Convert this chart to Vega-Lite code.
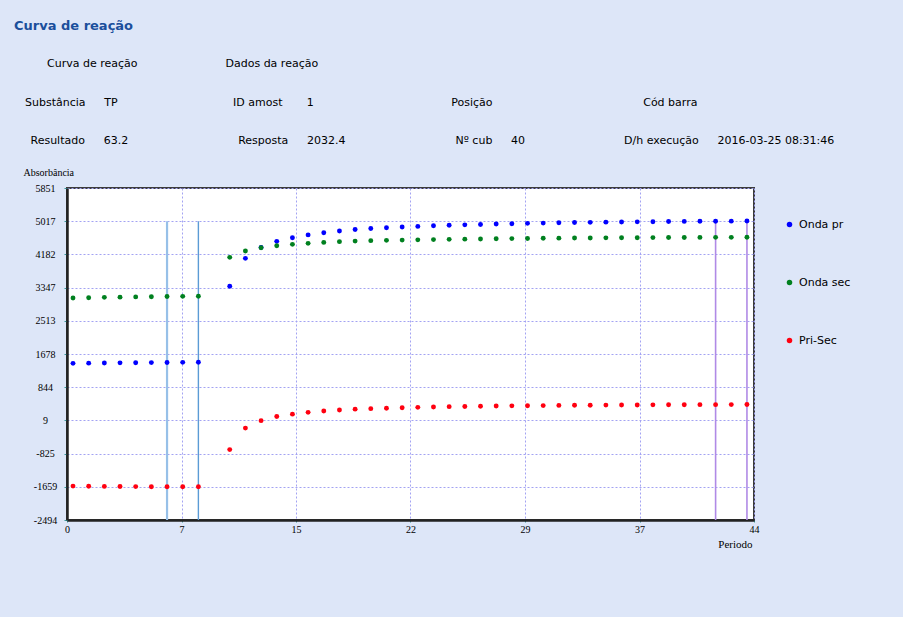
{
  "$schema": "https://vega.github.io/schema/vega-lite/v6.json",
  "autosize": {"type": "none"},
  "width": 687,
  "height": 332,
  "padding": {"left": 67, "top": 188, "right": 149, "bottom": 97},
  "background": "#dde6f8",
  "config": {
    "view": {"fill": "#ffffff", "stroke": "#3c3c3c", "strokeWidth": 2},
    "font": "DejaVu Sans"
  },
  "title": {
    "text": "Curva de reação",
    "subtitle": [
      "\u200b\u2003\u2003\u2003Curva de reação\u2003\u2003\u2003\u2003\u2003\u2003\u2003\u2003Dados da reação",
      "\u200b\u2003Substância\u2003\u2002\u2009TP\u2003\u2003\u2003\u2003\u2003\u2003\u2003\u2003\u2003\u2003\u2002ID amost\u2003\u2003\u20091\u2003\u2003\u2003\u2003\u2003\u2003\u2003\u2003\u2003\u2003\u2003\u2003\u2002Posição\u2003\u2003\u2003\u2003\u2003\u2003\u2003\u2003\u2003\u2003\u2003\u2003\u2003\u2002\u2009Cód barra",
      "\u200b\u2003\u2002Resultado\u2003\u2002\u200963.2\u2003\u2003\u2003\u2003\u2003\u2003\u2003\u2003\u2003\u2003Resposta\u2003\u2002\u20092032.4\u2003\u2003\u2003\u2003\u2003\u2003\u2003\u2003\u2003\u2003Nº cub\u2003\u2002\u200940\u2003\u2003\u2003\u2003\u2003\u2003\u2003\u2003\u2003D/h execução\u2003\u2002\u20092016-03-25 08:31:46"
    ],
    "anchor": "start",
    "frame": "group",
    "dx": -53,
    "offset": 21,
    "font": "DejaVu Sans",
    "fontSize": 13,
    "fontWeight": "bold",
    "color": "#1b4f9c",
    "subtitleFont": "DejaVu Sans",
    "subtitleFontSize": 11,
    "subtitleColor": "#000000",
    "subtitleLineHeight": 38.5,
    "subtitlePadding": 25
  },
  "datasets": {
    "leituras": [
      {"periodo": 1, "Onda pr": 1444, "Onda sec": 3086, "Pri-Sec": -1642},
      {"periodo": 2, "Onda pr": 1448, "Onda sec": 3094, "Pri-Sec": -1646},
      {"periodo": 3, "Onda pr": 1452, "Onda sec": 3102, "Pri-Sec": -1650},
      {"periodo": 4, "Onda pr": 1456, "Onda sec": 3108, "Pri-Sec": -1652},
      {"periodo": 5, "Onda pr": 1459, "Onda sec": 3114, "Pri-Sec": -1655},
      {"periodo": 6, "Onda pr": 1462, "Onda sec": 3119, "Pri-Sec": -1657},
      {"periodo": 7, "Onda pr": 1465, "Onda sec": 3123, "Pri-Sec": -1658},
      {"periodo": 8, "Onda pr": 1468, "Onda sec": 3127, "Pri-Sec": -1659},
      {"periodo": 9, "Onda pr": 1470, "Onda sec": 3129, "Pri-Sec": -1659},
      {"periodo": 11, "Onda pr": 3383, "Onda sec": 4108, "Pri-Sec": -725},
      {"periodo": 12, "Onda pr": 4083, "Onda sec": 4267, "Pri-Sec": -184},
      {"periodo": 13, "Onda pr": 4354, "Onda sec": 4351, "Pri-Sec": 3},
      {"periodo": 14, "Onda pr": 4510, "Onda sec": 4401, "Pri-Sec": 109},
      {"periodo": 15, "Onda pr": 4602, "Onda sec": 4435, "Pri-Sec": 167},
      {"periodo": 16, "Onda pr": 4672, "Onda sec": 4460, "Pri-Sec": 212},
      {"periodo": 17, "Onda pr": 4728, "Onda sec": 4484, "Pri-Sec": 244},
      {"periodo": 18, "Onda pr": 4772, "Onda sec": 4502, "Pri-Sec": 270},
      {"periodo": 19, "Onda pr": 4808, "Onda sec": 4516, "Pri-Sec": 292},
      {"periodo": 20, "Onda pr": 4832, "Onda sec": 4527, "Pri-Sec": 305},
      {"periodo": 21, "Onda pr": 4851, "Onda sec": 4535, "Pri-Sec": 316},
      {"periodo": 22, "Onda pr": 4871, "Onda sec": 4542, "Pri-Sec": 329},
      {"periodo": 23, "Onda pr": 4886, "Onda sec": 4548, "Pri-Sec": 338},
      {"periodo": 24, "Onda pr": 4901, "Onda sec": 4554, "Pri-Sec": 347},
      {"periodo": 25, "Onda pr": 4915, "Onda sec": 4560, "Pri-Sec": 355},
      {"periodo": 26, "Onda pr": 4925, "Onda sec": 4565, "Pri-Sec": 360},
      {"periodo": 27, "Onda pr": 4935, "Onda sec": 4570, "Pri-Sec": 365},
      {"periodo": 28, "Onda pr": 4946, "Onda sec": 4575, "Pri-Sec": 371},
      {"periodo": 29, "Onda pr": 4954, "Onda sec": 4579, "Pri-Sec": 375},
      {"periodo": 30, "Onda pr": 4962, "Onda sec": 4583, "Pri-Sec": 379},
      {"periodo": 31, "Onda pr": 4969, "Onda sec": 4587, "Pri-Sec": 382},
      {"periodo": 32, "Onda pr": 4976, "Onda sec": 4590, "Pri-Sec": 386},
      {"periodo": 33, "Onda pr": 4982, "Onda sec": 4593, "Pri-Sec": 389},
      {"periodo": 34, "Onda pr": 4987, "Onda sec": 4596, "Pri-Sec": 391},
      {"periodo": 35, "Onda pr": 4992, "Onda sec": 4598, "Pri-Sec": 394},
      {"periodo": 36, "Onda pr": 4996, "Onda sec": 4600, "Pri-Sec": 396},
      {"periodo": 37, "Onda pr": 5000, "Onda sec": 4602, "Pri-Sec": 398},
      {"periodo": 38, "Onda pr": 5004, "Onda sec": 4604, "Pri-Sec": 400},
      {"periodo": 39, "Onda pr": 5008, "Onda sec": 4606, "Pri-Sec": 402},
      {"periodo": 40, "Onda pr": 5012, "Onda sec": 4608, "Pri-Sec": 404},
      {"periodo": 41, "Onda pr": 5014, "Onda sec": 4609, "Pri-Sec": 405},
      {"periodo": 42, "Onda pr": 5016, "Onda sec": 4610, "Pri-Sec": 406},
      {"periodo": 43, "Onda pr": 5018, "Onda sec": 4611, "Pri-Sec": 407},
      {"periodo": 44, "Onda pr": 5020, "Onda sec": 4612, "Pri-Sec": 408}
    ],
    "janelas": [
      {"periodo": 7, "janela": "Reagente", "borda": "início"},
      {"periodo": 9, "janela": "Reagente", "borda": "fim"},
      {"periodo": 42, "janela": "Reação", "borda": "início"},
      {"periodo": 44, "janela": "Reação", "borda": "fim"}
    ]
  },
  "encoding": {
    "x": {
      "field": "periodo",
      "type": "quantitative",
      "scale": {"domain": [0.617, 44.45], "nice": false, "zero": false},
      "axis": {
        "title": "Periodo",
        "values": [0.617, 7.9225, 15.228, 22.5335, 29.839, 37.1445, 44.45],
        "tickCount": 20,
        "labelExpr": "format((datum.value - 0.617) * 44 / 43.833, 'd')",
        "labelFont": "Liberation Serif",
        "labelFontSize": 10,
        "labelColor": "#000000",
        "labelPadding": 2,
        "labelFlush": false,
        "labelOverlap": false,
        "tickSize": 2,
        "tickColor": "#3a9a9a",
        "domainColor": "#222222",
        "domainWidth": 2.5,
        "grid": true,
        "gridColor": "#a3a3f2",
        "gridDash": [2, 2],
        "gridWidth": 1,
        "titleFont": "Liberation Serif",
        "titleFontSize": 11,
        "titleFontWeight": "normal",
        "titleColor": "#000000",
        "titleAlign": "right",
        "titleBaseline": "alphabetic",
        "titleX": 685,
        "titleY": 27
      }
    }
  },
  "layer": [
    {
      "data": {"name": "janelas"},
      "transform": [{"filter": "datum.janela == 'Reagente' && datum.borda == 'início'"}],
      "mark": {"type": "rule", "color": "#97c0e8", "strokeWidth": 2.2},
      "encoding": {"y": {"datum": 5017}, "y2": {"datum": -2494}}
    },
    {
      "data": {"name": "janelas"},
      "transform": [{"filter": "datum.janela == 'Reagente' && datum.borda == 'fim'"}],
      "mark": {"type": "rule", "color": "#5b9bd5", "strokeWidth": 1.4},
      "encoding": {"y": {"datum": 5017}, "y2": {"datum": -2494}}
    },
    {
      "data": {"name": "janelas"},
      "transform": [{"filter": "datum.janela == 'Reação'"}],
      "mark": {"type": "rule", "color": "#b08ae6", "strokeWidth": 1.6},
      "encoding": {"y": {"datum": 5017}, "y2": {"datum": -2494}}
    },
    {
      "data": {"name": "leituras"},
      "transform": [{"fold": ["Onda pr", "Onda sec", "Pri-Sec"], "as": ["onda", "absorbancia"]}],
      "mark": {"type": "circle", "size": 24, "opacity": 1},
      "encoding": {
        "y": {
          "field": "absorbancia",
          "type": "quantitative",
          "scale": {"domain": [-2494, 5851], "nice": false, "zero": false},
          "axis": {
            "title": "Absorbância",
            "titleAngle": 0,
            "titleAlign": "left",
            "titleBaseline": "alphabetic",
            "titleX": -44,
            "titleY": -13,
            "titleFont": "Liberation Serif",
            "titleFontSize": 10,
            "titleFontWeight": "normal",
            "titleColor": "#000000",
            "values": [5851, 5017, 4182, 3347, 2513, 1678, 844, 9, -825, -1659, -2494],
            "tickCount": 20,
            "labelExpr": "toString(datum.value)",
            "labelFont": "Liberation Serif",
            "labelFontSize": 10,
            "labelColor": "#000000",
            "labelAlign": "center",
            "labelPadding": 19,
            "labelOverlap": false,
            "tickSize": 3,
            "tickColor": "#3a9a9a",
            "domainColor": "#222222",
            "domainWidth": 2.5,
            "grid": true,
            "gridColor": "#a3a3f2",
            "gridDash": [2, 2],
            "gridWidth": 1
          }
        },
        "color": {
          "field": "onda",
          "type": "nominal",
          "scale": {"domain": ["Onda pr", "Onda sec", "Pri-Sec"], "range": ["#0000ff", "#00801f", "#ff0010"]},
          "legend": {
            "title": null,
            "orient": "none",
            "legendX": 717,
            "legendY": 31,
            "direction": "vertical",
            "rowPadding": 46,
            "labelFont": "DejaVu Sans",
            "labelFontSize": 11,
            "labelColor": "#000000",
            "symbolSize": 30,
            "symbolType": "circle"
          }
        }
      }
    }
  ]
}
